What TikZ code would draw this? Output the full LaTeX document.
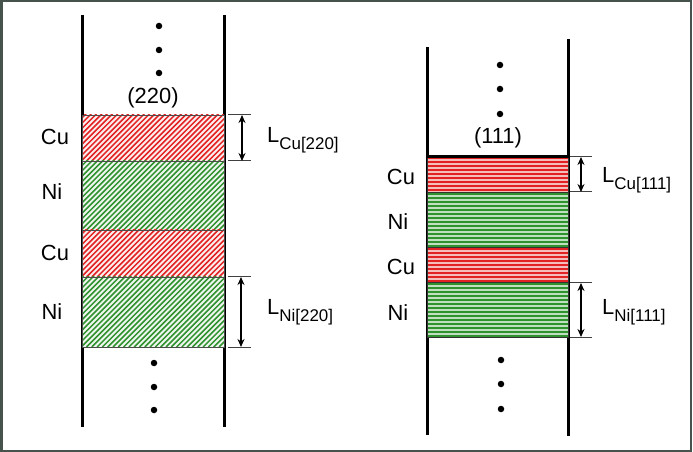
\documentclass[tikz,border=0pt]{standalone}
\usepackage{fontspec}
\setmainfont{Liberation Sans}
\usetikzlibrary{arrows.meta}

\definecolor{cured}{RGB}{226,34,34}
\definecolor{nigreen}{RGB}{46,146,46}
\definecolor{framegray}{RGB}{70,82,76}

\tikzset{
  hatch220/.style={fill=#1!8,path picture={
      \foreach \s in {-75,-69.7,...,145}
        \draw[#1,line width=1.5bp] ([xshift=\s bp]path picture bounding box.south west) -- ++(100,-100);}},
  stripe111/.style={fill=#1!30,path picture={
      \foreach \y in {1,5,...,57}
        \draw[#1,line width=2bp] ([yshift=-\y bp]path picture bounding box.north west) -- ++(145,0);}}
}

\begin{document}
\begin{tikzpicture}[x=1bp,y=-1bp,>={Stealth[length=8bp,width=7bp]}]
    \useasboundingbox (0,0) rectangle (693,452);
    \draw[framegray,line width=2bp] (1.5,1.5) rectangle (691,450.5);

    % walls
    \begin{scope}[line width=3bp]
      \draw (82,15) -- (82,427);
      \draw (224,15) -- (224,427);
      \draw (427,47) -- (427,435);
      \draw (568,39) -- (568,436);
    \end{scope}

    % layers, (220) column
    \begin{scope}[every node/.style={rectangle,inner sep=0,minimum width=142bp,
        draw=black!70,line width=0.6bp}]
      \node[minimum height=46bp,hatch220=cured] (cu1) at (153,138) {};
      \node[minimum height=69bp,hatch220=nigreen] (ni1) at (153,195.5) {};
      \node[minimum height=47bp,hatch220=cured] (cu2) at (153,253.5) {};
      \node[minimum height=70bp,hatch220=nigreen] (ni2) at (153,312) {};
    \end{scope}

    % layers, (111) column
    \begin{scope}[every node/.style={rectangle,inner sep=0,minimum width=141bp,
        draw=black!80,line width=1bp}]
      \node[minimum height=36bp,stripe111=cured] (cu3) at (497.5,175) {};
      \node[minimum height=55bp,stripe111=nigreen] (ni3) at (497.5,220.5) {};
      \node[minimum height=35bp,stripe111=cured] (cu4) at (497.5,265.5) {};
      \node[minimum height=54bp,stripe111=nigreen] (ni4) at (497.5,310) {};
    \end{scope}
    \draw[line width=2.5bp] (cu3.north west) -- (cu3.north east);

    % dots
    \begin{scope}[every node/.style={circle,fill=black,inner sep=0,minimum size=6.5bp}]
      \node (d1) at (159,26) {};
      \node (d2) at (159,50) {};
      \node (d3) at (159,73) {};
      \node (d4) at (154,363) {};
      \node (d5) at (154,387) {};
      \node (d6) at (154,410) {};
      \node (d7) at (500,65) {};
      \node (d8) at (500,89) {};
      \node (d9) at (500,114) {};
      \node (d10) at (501,360) {};
      \node (d11) at (501,384) {};
      \node (d12) at (501,409) {};
    \end{scope}

    % texts
    \begin{scope}[every node/.style={inner sep=0,font=\fontsize{22}{26}\selectfont}]
      \node (h220) at (153,98) {(220)};
      \node (h111) at (498,138) {(111)};
      \node (ca) at (55,137) {Cu};
      \node (na) at (52,192) {Ni};
      \node (cb) at (55,253) {Cu};
      \node (nb) at (52,312) {Ni};
      \node (cc) at (401,177) {Cu};
      \node (nc) at (398,222) {Ni};
      \node (cd) at (401,267) {Cu};
      \node (nd) at (398,313) {Ni};
    \end{scope}
    \begin{scope}[every node/.style={inner sep=0,anchor=base west,font=\fontsize{22}{26}\selectfont}]
      \node (lcu220) at (267,143) {L\raisebox{-7bp}{\fontsize{17}{20}\selectfont Cu[220]}};
      \node (lni220) at (267,315) {L\raisebox{-7bp}{\fontsize{17}{20}\selectfont Ni[220]}};
      \node (lcu111) at (602,183) {L\raisebox{-7bp}{\fontsize{17}{20}\selectfont Cu[111]}};
      \node (lni111) at (602,315) {L\raisebox{-7bp}{\fontsize{17}{20}\selectfont Ni[111]}};
    \end{scope}

    % ticks
    \coordinate (t1) at (228,115);  \coordinate (t1e) at (251,115);
    \coordinate (t2) at (228,161);  \coordinate (t2e) at (251,161);
    \coordinate (t3) at (228,277);  \coordinate (t3e) at (251,277);
    \coordinate (t4) at (228,347);  \coordinate (t4e) at (251,347);
    \coordinate (t5) at (570,157);  \coordinate (t5e) at (592,157);
    \coordinate (t6) at (570,192);  \coordinate (t6e) at (592,192);
    \coordinate (t7) at (570,283);  \coordinate (t7e) at (592,283);
    \coordinate (t8) at (570,337);  \coordinate (t8e) at (592,337);
    \begin{scope}[draw=black!75,line width=1bp]
      \draw (t1) -- (t1e);
      \draw (t2) -- (t2e);
      \draw (t3) -- (t3e);
      \draw (t4) -- (t4e);
      \draw (t5) -- (t5e);
      \draw (t6) -- (t6e);
      \draw (t7) -- (t7e);
      \draw (t8) -- (t8e);
    \end{scope}

    % dimension arrows
    \coordinate (a1) at (242,115);  \coordinate (a2) at (242,161);
    \coordinate (a3) at (241,277);  \coordinate (a4) at (241,347);
    \coordinate (a5) at (581,157);  \coordinate (a6) at (581,192);
    \coordinate (a7) at (581,283);  \coordinate (a8) at (581,337);
    \begin{scope}[every edge/.style={draw=black,line width=1.5bp}]
      \path [<->] (a1) edge (a2);
      \path [<->] (a3) edge (a4);
      \path [<->] (a5) edge (a6);
      \path [<->] (a7) edge (a8);
    \end{scope}
\end{tikzpicture}
\end{document}
